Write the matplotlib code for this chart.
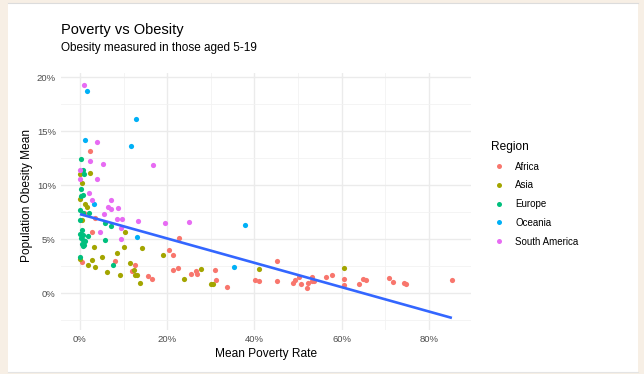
import numpy as np
import matplotlib
matplotlib.use("Agg")
import matplotlib.pyplot as plt
from matplotlib.patches import Rectangle
from matplotlib.ticker import FuncFormatter, MultipleLocator
from matplotlib.lines import Line2D

plt.rcParams["font.family"] = ["Liberation Sans", "DejaVu Sans"]

regions = ["Africa", "Asia", "Europe", "Oceania", "South America"]
region_colors = ["#F8766D", "#A3A500", "#00BF7D", "#00B0F6", "#E76BF3"]

# poverty rate (fraction) and obesity mean (fraction) per country, by region
africa_poverty = [0.024, 0.009, 0.034, 0.028, 0.226, 0.204, 0.213, 0.080, 0.004, 0.126,
                  0.120, 0.156, 0.165, 0.213, 0.225, 0.254, 0.267, 0.268, 0.310, 0.311,
                  0.338, 0.402, 0.411, 0.451, 0.451, 0.488, 0.493, 0.507, 0.503, 0.520,
                  0.524, 0.531, 0.531, 0.536, 0.564, 0.577, 0.605, 0.605, 0.640, 0.649,
                  0.655, 0.708, 0.718, 0.742, 0.748, 0.853]
africa_obesity = [0.132, 0.074, 0.070, 0.057, 0.051, 0.040, 0.0356, 0.030, 0.029, 0.026,
                  0.0205, 0.016, 0.0137, 0.0217, 0.0233, 0.0183, 0.021, 0.018, 0.022, 0.0128,
                  0.0057, 0.0125, 0.0116, 0.0298, 0.0113, 0.0094, 0.0125, 0.0088, 0.0155, 0.0045,
                  0.0094, 0.011, 0.015, 0.011, 0.0155, 0.0168, 0.0137, 0.0076, 0.0088, 0.0134,
                  0.0128, 0.0143, 0.0106, 0.0097, 0.0091, 0.0122]

asia_poverty = [0.023, 0.000, 0.004, 0.000, 0.011, 0.017, 0.004, 0.104, 0.031, 0.102,
                0.142, 0.085, 0.050, 0.000, 0.027, 0.019, 0.034, 0.114, 0.123, 0.126,
                0.131, 0.061, 0.091, 0.137, 0.191, 0.238, 0.278, 0.301, 0.305, 0.411,
                0.606]
asia_obesity = [0.111, 0.110, 0.102, 0.087, 0.083, 0.080, 0.068, 0.0566, 0.043, 0.0427,
                0.0418, 0.0377, 0.034, 0.032, 0.031, 0.026, 0.024, 0.028, 0.022, 0.017,
                0.017, 0.0196, 0.017, 0.010, 0.0356, 0.0137, 0.0229, 0.0088, 0.0082, 0.0226,
                0.0236]

europe_poverty = [0.002, 0.006, 0.009, 0.002, 0.008, 0.002, 0.000, 0.006, 0.000, 0.021,
                  0.058, 0.071, 0.004, 0.000, 0.008, 0.018, 0.002, 0.006, 0.011, 0.004,
                  0.009, 0.008, 0.058, 0.000, 0.076]
europe_obesity = [0.1246, 0.114, 0.110, 0.0966, 0.091, 0.0904, 0.077, 0.0747, 0.068, 0.074,
                  0.065, 0.0627, 0.0587, 0.055, 0.054, 0.053, 0.051, 0.0495, 0.048, 0.046,
                  0.045, 0.044, 0.0494, 0.034, 0.026]

oceania_poverty = [0.015, 0.128, 0.011, 0.117, 0.032, 0.130, 0.379, 0.353]
oceania_obesity = [0.187, 0.161, 0.142, 0.136, 0.083, 0.0525, 0.063, 0.0245]

samerica_poverty = [0.009, 0.038, 0.024, 0.052, 0.168, 0.000, 0.000, 0.038, 0.021, 0.027,
                    0.072, 0.065, 0.070, 0.088, 0.055, 0.085, 0.096, 0.133, 0.195, 0.249,
                    0.093, 0.047, 0.094]
samerica_obesity = [0.193, 0.140, 0.122, 0.120, 0.119, 0.114, 0.106, 0.106, 0.093, 0.086,
                    0.086, 0.080, 0.078, 0.079, 0.073, 0.0686, 0.0686, 0.0667, 0.065, 0.066,
                    0.060, 0.057, 0.050]

poverty = [africa_poverty, asia_poverty, europe_poverty, oceania_poverty, samerica_poverty]
obesity = [africa_obesity, asia_obesity, europe_obesity, oceania_obesity, samerica_obesity]

W, H = 644, 374
fig = plt.figure(figsize=(W / 100, H / 100), dpi=100)
fig.patch.set_facecolor("#F7EFE5")
# white card with a faint top/bottom rule
fig.patches.append(Rectangle((8 / W, 2 / H), 630 / W, 369 / H, transform=fig.transFigure,
                             facecolor="white", edgecolor="none", zorder=-5))
fig.add_artist(Line2D([8 / W, 638 / W], [371.5 / H, 371.5 / H], color="#dcdcdc", lw=0.8,
                      zorder=-4))
fig.add_artist(Line2D([8 / W, 638 / W], [2.5 / H, 2.5 / H], color="#e4e4e4", lw=0.8,
                      zorder=-4))

left, right, top, bottom = 61.4, 470.5, 73.0, 329.6
ax = fig.add_axes([left / W, (H - bottom) / H, (right - left) / W, (bottom - top) / H])
ax.set_zorder(2)
ax.set_facecolor("none")

for px, oy, col in zip(poverty, obesity, region_colors):
    ax.scatter(px, oy, s=14, color=col, linewidths=0, zorder=3)

# linear fit across all countries
all_x = np.concatenate([np.asarray(p) for p in poverty])
all_y = np.concatenate([np.asarray(o) for o in obesity])
slope, intercept = np.polyfit(all_x, all_y, 1)
xs = np.linspace(all_x.min(), all_x.max(), 80)
ax.plot(xs, intercept + slope * xs, color="#3366FF", lw=1.9, zorder=4, solid_capstyle="butt")

ax.margins(0.05)
ax.xaxis.set_major_locator(MultipleLocator(0.2))
ax.xaxis.set_minor_locator(MultipleLocator(0.1))
ax.yaxis.set_major_locator(MultipleLocator(0.05))
ax.yaxis.set_minor_locator(MultipleLocator(0.025))
pct = FuncFormatter(lambda v, _: f"{v * 100:.0f}%")
ax.xaxis.set_major_formatter(pct)
ax.yaxis.set_major_formatter(pct)
ax.grid(which="major", color="#EBEBEB", lw=1.0, zorder=0)
ax.grid(which="minor", color="#F2F2F2", lw=0.6, zorder=0)
ax.set_axisbelow(True)
for s in ax.spines.values():
    s.set_visible(False)
ax.tick_params(which="both", length=0, labelsize=6.8, labelcolor="#4D4D4D")
ax.tick_params(axis="x", pad=4)
ax.tick_params(axis="y", pad=4)

ax.set_xlabel("Mean Poverty Rate", fontsize=8.6, labelpad=3)
ax.set_ylabel("Population Obesity Mean", fontsize=8.6)
ax.yaxis.set_label_coords((33 - left) / (right - left), (bottom - 195) / (bottom - top))

fig.text(left / W, 1 - 30 / H, "Poverty vs Obesity", fontsize=10.5, va="center", ha="left")
fig.text(left / W, 1 - 47.5 / H, "Obesity measured in those aged 5-19", fontsize=8.5,
         va="center", ha="left")

handles = [Line2D([], [], marker="o", ls="none", markersize=3.6, markerfacecolor=c,
                  markeredgewidth=0) for c in region_colors]
fig.legend(handles, regions, title="Region", loc="upper left",
           bbox_to_anchor=(486 / W, 1 - 136 / H), frameon=False, fontsize=7,
           title_fontsize=8.6, labelspacing=0.9, handletextpad=0.9, handlelength=1.6,
           alignment="left", borderpad=0)

fig.savefig("out.png", dpi=100, facecolor=fig.get_facecolor())
